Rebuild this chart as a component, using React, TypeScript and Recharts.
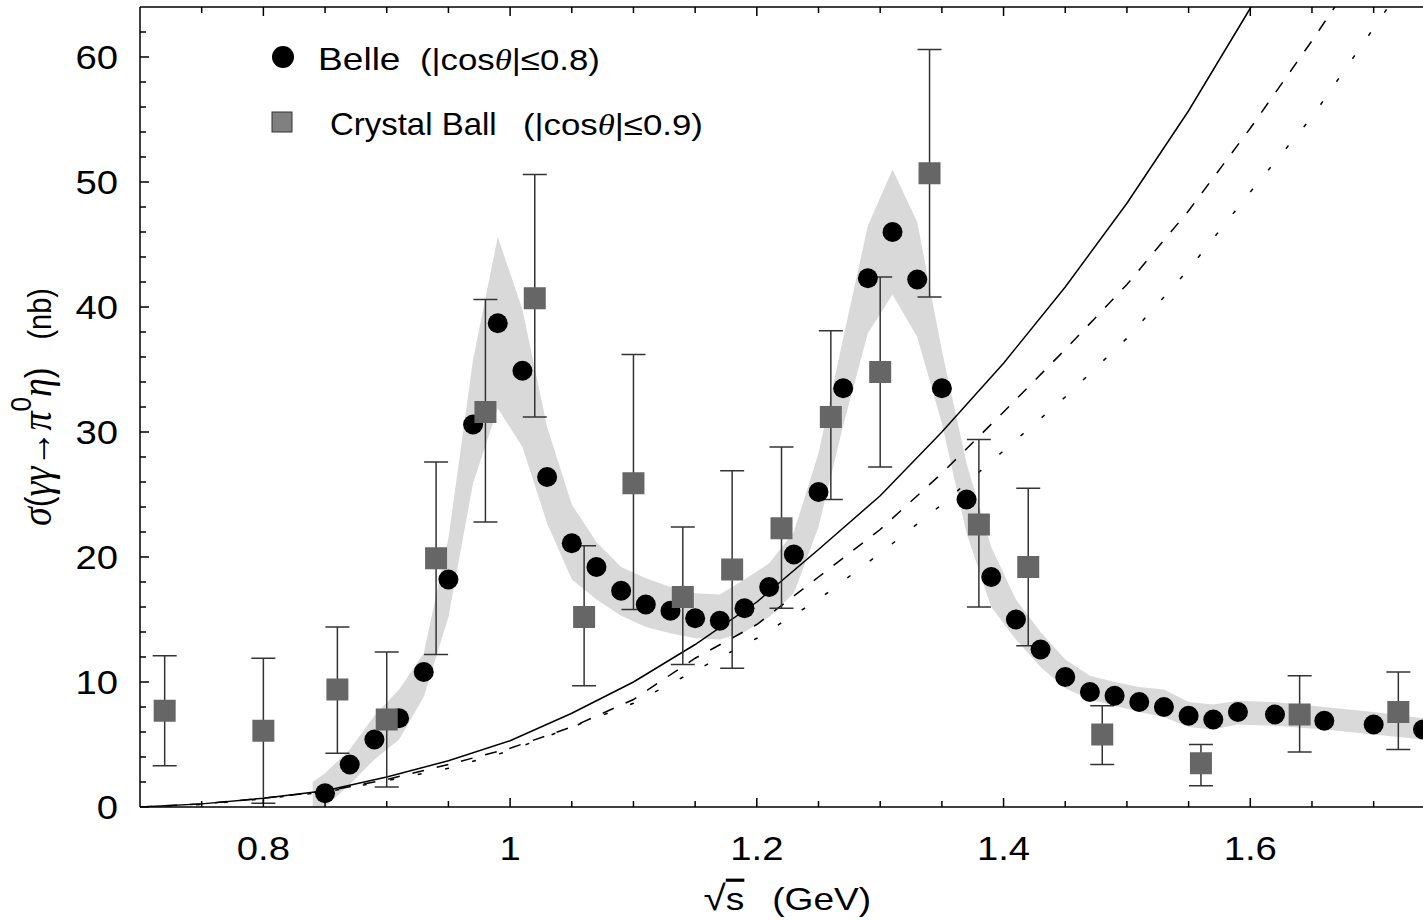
import React from 'react';
import { ComposedChart, Area, Line, Scatter, XAxis, YAxis, ErrorBar, Legend } from 'recharts';

const SANS = '"Liberation Sans", Arial, Helvetica, sans-serif';
const SERIF = '"Liberation Serif", "Times New Roman", serif';
const STRETCH = 1.16;

// Belle (|cos θ| <= 0.8)
const belleX = [0.85, 0.87, 0.89, 0.91, 0.93, 0.95, 0.97, 0.99, 1.01, 1.03, 1.05, 1.07, 1.09, 1.11, 1.13, 1.15, 1.17, 1.19, 1.21, 1.23, 1.25, 1.27, 1.29, 1.31, 1.33, 1.35, 1.37, 1.39, 1.41, 1.43, 1.45, 1.47, 1.49, 1.51, 1.53, 1.55, 1.57, 1.59, 1.62, 1.66, 1.70, 1.74];
const belleY = [1.1, 3.4, 5.4, 7.1, 10.8, 18.2, 30.6, 38.7, 34.9, 26.4, 21.1, 19.2, 17.3, 16.2, 15.7, 15.1, 14.9, 15.9, 17.6, 20.2, 25.2, 33.5, 42.3, 46.0, 42.2, 33.5, 24.6, 18.4, 15.0, 12.6, 10.4, 9.2, 8.9, 8.4, 8.0, 7.3, 7.0, 7.6, 7.4, 6.9, 6.6, 6.2];

// Crystal Ball (|cos θ| <= 0.9), with error bar ends
const cbX = [0.72, 0.80, 0.86, 0.90, 0.94, 0.98, 1.02, 1.06, 1.10, 1.14, 1.18, 1.22, 1.26, 1.30, 1.34, 1.38, 1.42, 1.48, 1.56, 1.64, 1.72];
const cbY = [7.7, 6.1, 9.4, 7.0, 19.9, 31.6, 40.7, 15.2, 25.9, 16.8, 19.0, 22.3, 31.2, 34.8, 50.7, 22.6, 19.2, 5.8, 3.5, 7.4, 7.6];
const cbLow = [3.3, 0.3, 4.3, 1.6, 12.2, 22.8, 31.2, 9.7, 15.8, 11.4, 11.1, 15.9, 24.6, 27.2, 40.8, 16.0, 12.9, 3.4, 1.7, 4.4, 4.6];
const cbHigh = [12.1, 11.9, 14.4, 12.4, 27.6, 40.6, 50.6, 20.9, 36.2, 22.4, 26.9, 28.8, 38.1, 42.4, 60.6, 29.4, 25.5, 8.1, 5.0, 10.5, 10.8];

// grey uncertainty band
const bandX = [0.84, 0.85, 0.87, 0.89, 0.91, 0.93, 0.95, 0.97, 0.99, 1.01, 1.03, 1.05, 1.07, 1.09, 1.11, 1.13, 1.15, 1.17, 1.19, 1.21, 1.23, 1.25, 1.27, 1.29, 1.31, 1.33, 1.35, 1.37, 1.39, 1.41, 1.43, 1.45, 1.47, 1.49, 1.51, 1.53, 1.55, 1.57, 1.59, 1.62, 1.66, 1.70, 1.74, 1.75];
const bandLow = [-1.0, 0.0, 1.8, 3.8, 5.4, 8.8, 15.2, 25.9, 31.9, 28.8, 22.7, 18.2, 16.6, 15.3, 14.4, 13.9, 13.5, 13.4, 14.0, 15.2, 17.1, 22.4, 30.5, 37.9, 41.0, 37.6, 30.7, 21.9, 16.0, 13.4, 11.2, 9.5, 8.6, 8.1, 7.6, 7.2, 6.4, 6.2, 6.6, 6.5, 6.2, 5.8, 5.4, 5.3];
const bandHigh = [2.0, 2.7, 4.6, 7.3, 9.4, 12.3, 21.5, 35.8, 45.6, 39.8, 30.4, 24.2, 21.2, 19.2, 18.3, 17.6, 17.1, 17.0, 18.2, 19.5, 22.0, 28.3, 37.5, 46.5, 51.0, 46.8, 36.5, 27.5, 20.8, 16.6, 14.0, 11.8, 10.5, 10.0, 9.6, 9.4, 8.4, 8.2, 8.5, 8.4, 8.0, 7.6, 7.1, 7.0];

// theory curves
const curveX = [0.70, 0.75, 0.80, 0.85, 0.90, 0.95, 1.00, 1.05, 1.10, 1.15, 1.20, 1.25, 1.30, 1.35, 1.40, 1.45, 1.50, 1.55, 1.60, 1.65, 1.70, 1.75];
const solidY = [0, 0.25, 0.7, 1.3, 2.4, 3.7, 5.3, 7.5, 10.0, 13.0, 16.4, 20.6, 24.9, 30.0, 35.5, 41.6, 48.3, 55.7, 63.9, 72.5, 81.5, 91.0];
const dashedY = [0, 0.25, 0.7, 1.25, 2.2, 3.4, 4.7, 6.4, 8.6, 11.9, 14.6, 18.4, 22.2, 26.7, 31.6, 36.6, 41.8, 47.7, 54.3, 61.3, 68.6, 76.0];
const dottedY = [0, 0.2, 0.65, 1.2, 2.1, 3.1, 4.5, 6.4, 8.3, 10.9, 13.5, 16.6, 20.3, 24.2, 28.5, 32.8, 37.5, 43.0, 49.2, 55.2, 62.3, 69.5];

const xMajorTicks = [0.8, 1, 1.2, 1.4, 1.6];
const xMinorTicks = [0.75, 0.85, 0.9, 0.95, 1.05, 1.1, 1.15, 1.25, 1.3, 1.35, 1.45, 1.5, 1.55, 1.65, 1.7];
const yMajorTicks = [0, 10, 20, 30, 40, 50, 60];
const yMinorTicks = [2, 4, 6, 8, 12, 14, 16, 18, 22, 24, 26, 28, 32, 34, 36, 38, 42, 44, 46, 48, 52, 54, 56, 58, 62];

const belleData = belleX.map((x, i) => ({ x, y: belleY[i] }));
const cbData = cbX.map((x, i) => ({ x, y: cbY[i], err: [cbY[i] - cbLow[i], cbHigh[i] - cbY[i]] }));
const bandData = bandX.map((x, i) => ({ x, range: [bandLow[i], bandHigh[i]] }));
const solidData = curveX.map((x, i) => ({ x, y: solidY[i] }));
const dashedData = curveX.map((x, i) => ({ x, y: dashedY[i] }));
const dottedData = curveX.map((x, i) => ({ x, y: dottedY[i] }));

const xTicks = [...xMajorTicks, ...xMinorTicks].sort((a, b) => a - b);
const yTicks = [...yMajorTicks, ...yMinorTicks].sort((a, b) => a - b);
const isMajor = (list: number[], v: number) => list.some((m) => Math.abs(m - v) < 1e-9);

const BottomTick = (props: any) => {
    const { x, y, payload } = props;
    const major = isMajor(xMajorTicks, payload.value);
    return (
        <g>
            <line x1={x} x2={x} y1={y} y2={y - (major ? 9 : 6)} stroke="#000" strokeWidth={1.5} />
            {major && (
                <text transform={`translate(${x},${y + 53}) scale(${STRETCH},1)`} textAnchor="middle" fontSize={33} fontFamily={SANS} fill="#000">
                    {String(payload.value)}
                </text>
            )}
        </g>
    );
};

const TopTick = (props: any) => {
    const { x, y, payload } = props;
    const major = isMajor(xMajorTicks, payload.value);
    return <line x1={x} x2={x} y1={y} y2={y + (major ? 9 : 6)} stroke="#000" strokeWidth={1.5} />;
};

const LeftTick = (props: any) => {
    const { x, y, payload } = props;
    const major = isMajor(yMajorTicks, payload.value);
    return (
        <g>
            <line x1={x} x2={x + (major ? 9 : 6)} y1={y} y2={y} stroke="#000" strokeWidth={1.5} />
            {major && (
                <text transform={`translate(${x - 22},${y + 12}) scale(${STRETCH},1)`} textAnchor="end" fontSize={33} fontFamily={SANS} fill="#000">
                    {String(payload.value)}
                </text>
            )}
        </g>
    );
};

const XTitle = (props: any) => {
    const { viewBox } = props;
    const left = viewBox.x + viewBox.width / 2 - 78;
    return (
        <text transform={`translate(${left},${viewBox.y + 103}) scale(${STRETCH},1)`} fontSize={32} fontFamily={SANS} fill="#000">
            <tspan fontSize={35}>√</tspan>
            <tspan style={{ textDecoration: 'overline' }}>s</tspan>
            <tspan dx={24}>(GeV)</tspan>
        </text>
    );
};

const YTitle = (props: any) => {
    const { viewBox } = props;
    const cy = viewBox.y + viewBox.height / 2;
    return (
        <text transform={`translate(51,${cy}) rotate(-90) scale(1,${STRETCH})`} textAnchor="middle" fontSize={38} fontFamily={SANS} fill="#000">
            <tspan fontFamily={SERIF} fontStyle="italic">σ</tspan>
            <tspan fontSize={32}>(</tspan>
            <tspan fontFamily={SERIF} fontStyle="italic">γγ</tspan>
            <tspan fontSize={36}>→</tspan>
            <tspan fontFamily={SERIF} fontStyle="italic">π</tspan>
            <tspan dy={-17} fontSize={26}>0</tspan>
            <tspan dy={17} fontFamily={SERIF} fontStyle="italic">η</tspan>
            <tspan fontSize={32}>)</tspan>
            <tspan dx={28} fontSize={29}>(nb)</tspan>
        </text>
    );
};

const LegendBox = () => (
    <svg width={520} height={125} style={{ display: 'block', overflow: 'visible' }}>
        <circle cx={28} cy={27} r={11} fill="#000" />
        <text transform={`translate(63,40) scale(${STRETCH},1)`} fontSize={32} fontFamily={SANS} fill="#000">Belle</text>
        <text transform={`translate(165,40) scale(${STRETCH},1)`} fontSize={30} fontFamily={SANS} fill="#000">
            (|cos<tspan fontFamily={SERIF} fontStyle="italic">θ</tspan>|≤0.8)
        </text>
        <rect x={17} y={82} width={20} height={20} fill="#808080" stroke="#333" strokeWidth={1} />
        <text transform="translate(75,105) scale(1.03,1)" fontSize={32} fontFamily={SANS} fill="#000">Crystal Ball</text>
        <text transform={`translate(268,105) scale(${STRETCH},1)`} fontSize={30} fontFamily={SANS} fill="#000">
            (|cos<tspan fontFamily={SERIF} fontStyle="italic">θ</tspan>|≤0.9)
        </text>
    </svg>
);

export default function App() {
    return (
        <div style={{ position: 'absolute', left: 0, top: 0, width: 1423, height: 920, background: '#fff' }}>
            <ComposedChart width={1423} height={920} margin={{ top: 6, right: 0, left: 139, bottom: 112 }}>
                <XAxis
                    dataKey="x"
                    type="number"
                    domain={[0.7, 1.74]}
                    allowDataOverflow
                    ticks={xTicks}
                    interval={0}
                    height={1}
                    tickSize={0}
                    tickMargin={0}
                    tickLine={false}
                    tick={BottomTick}
                    axisLine={{ stroke: '#000', strokeWidth: 1.5 }}
                    label={XTitle}
                />
                <XAxis
                    xAxisId="top"
                    orientation="top"
                    dataKey="x"
                    type="number"
                    domain={[0.7, 1.74]}
                    allowDataOverflow
                    ticks={xTicks}
                    interval={0}
                    height={1}
                    tickSize={0}
                    tickMargin={0}
                    tickLine={false}
                    tick={TopTick}
                    axisLine={{ stroke: '#000', strokeWidth: 1.5 }}
                />
                <YAxis
                    type="number"
                    domain={[0, 64]}
                    allowDataOverflow
                    ticks={yTicks}
                    interval={0}
                    width={1}
                    tickSize={0}
                    tickMargin={0}
                    tickLine={false}
                    tick={LeftTick}
                    axisLine={{ stroke: '#000', strokeWidth: 1.5 }}
                    label={YTitle}
                />
                <Legend
                    verticalAlign="middle"
                    align="center"
                    layout="horizontal"
                    wrapperStyle={{ left: 255, top: 30, width: 520, height: 125 }}
                    content={LegendBox}
                />
                <Area data={bandData} dataKey="range" type="linear" fill="#d9d9d9" fillOpacity={1} stroke="none" isAnimationActive={false} />
                <Line data={solidData} dataKey="y" type="linear" stroke="#000" strokeWidth={1.5} dot={false} isAnimationActive={false} />
                <Line data={dashedData} dataKey="y" type="linear" stroke="#000" strokeWidth={1.5} strokeDasharray="12 13" dot={false} isAnimationActive={false} />
                <Line data={dottedData} dataKey="y" type="linear" stroke="#000" strokeWidth={1.5} strokeDasharray="4 24" dot={false} isAnimationActive={false} />
                <Scatter
                    data={belleData}
                    dataKey="y"
                    isAnimationActive={false}
                    shape={(p: any) => <circle cx={p.cx} cy={p.cy} r={10} fill="#000" />}
                />
                <Scatter
                    data={cbData}
                    dataKey="y"
                    isAnimationActive={false}
                    shape={(p: any) => <rect x={p.cx - 11} y={p.cy - 11} width={22} height={22} fill="#666" />}
                >
                    <ErrorBar dataKey="err" direction="y" width={12} stroke="#333" strokeWidth={1.5} />
                </Scatter>
            </ComposedChart>
        </div>
    );
}
